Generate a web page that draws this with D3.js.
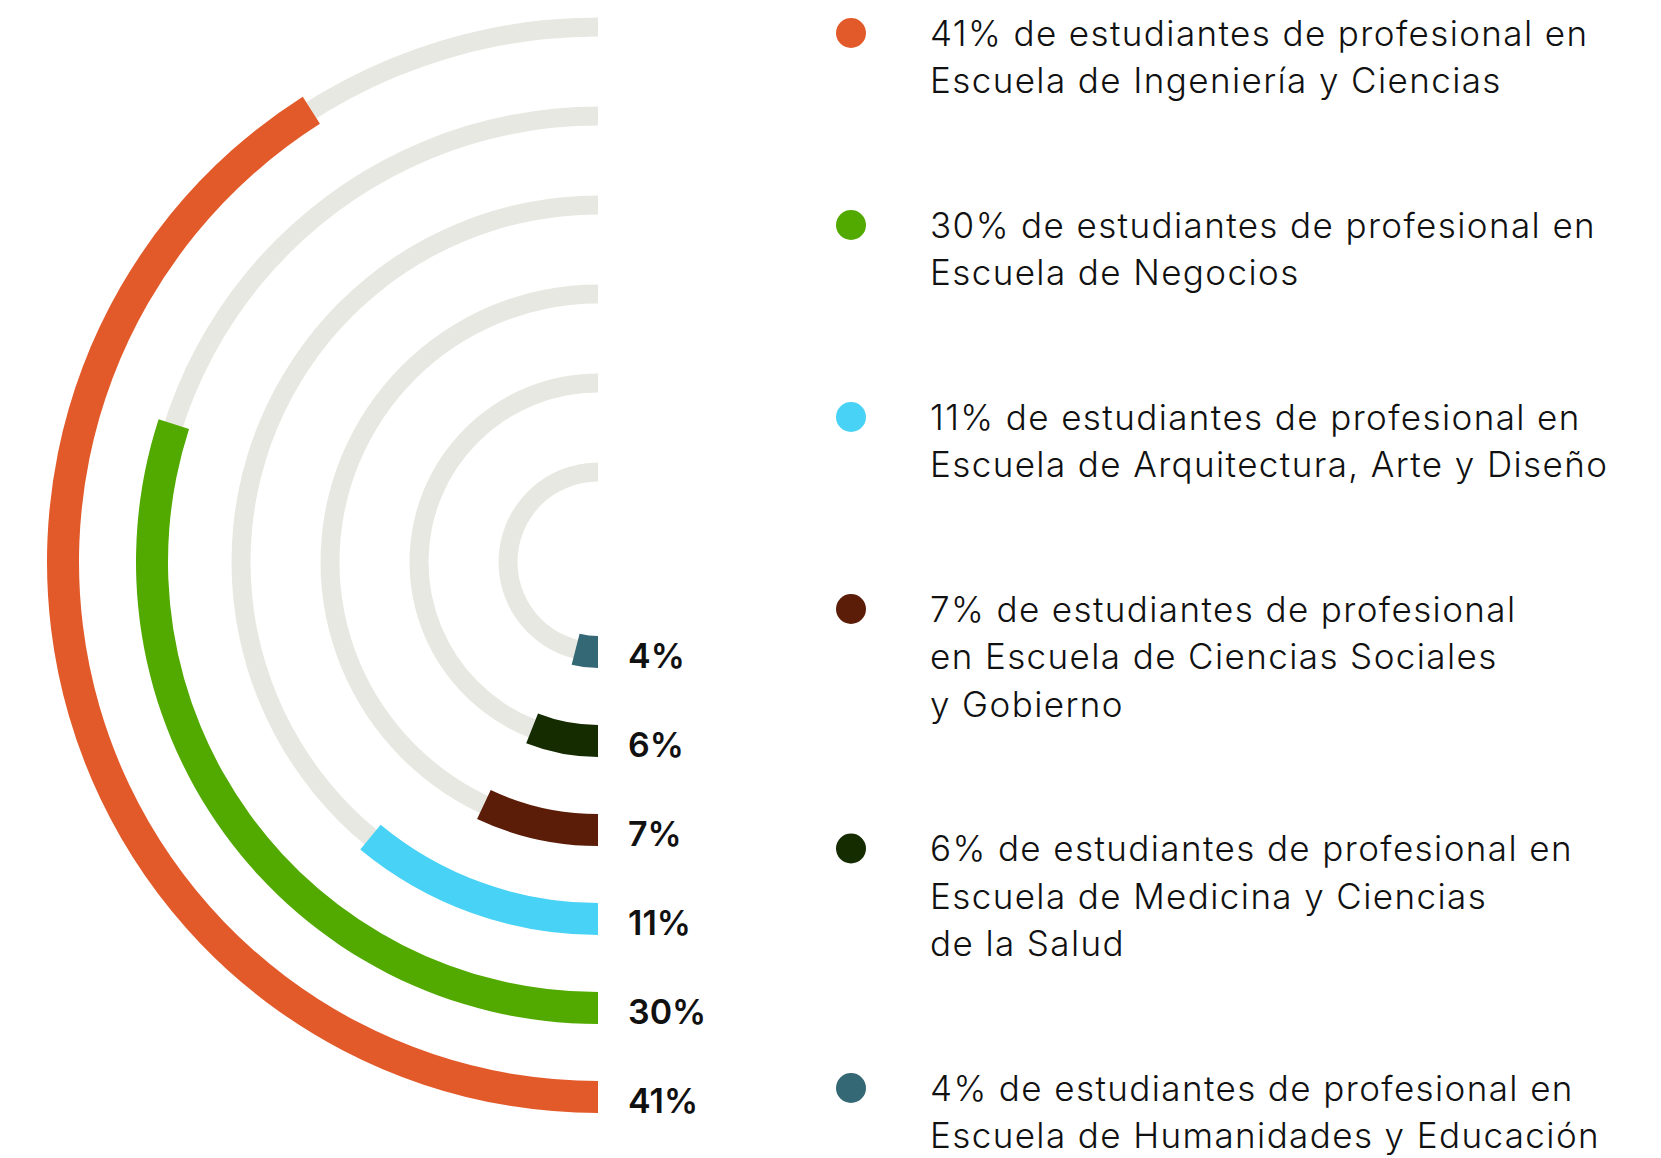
<!DOCTYPE html>
<html>
<head>
<meta charset="utf-8">
<script src="https://cdn.jsdelivr.net/npm/d3@7"></script>
<style>
  body { margin: 0; background: #fff; }
  text { font-family: Inter, Roboto, "Noto Sans", sans-serif; }
</style>
</head>
<body>
<div class="canva"></div>
<script>
// data
const schools = [
  "Ingeniería y Ciencias",
  "Negocios",
  "Arquitectura, Arte y Diseño",
  "Ciencias Sociales y Gobierno",
  "Medicina y Ciencias de la Salud",
  "Humanidades y Educación"
];
const values = [41, 30, 11, 7, 6, 4];
const colors = ["#e35a2a", "#52aa00", "#48d2f5", "#5c1d08", "#152b00", "#356875"];
const legendLines = [
  ["41% de estudiantes de profesional en", "Escuela de Ingeniería y Ciencias"],
  ["30% de estudiantes de profesional en", "Escuela de Negocios"],
  ["11% de estudiantes de profesional en", "Escuela de Arquitectura, Arte y Diseño"],
  ["7% de estudiantes de profesional", "en Escuela de Ciencias Sociales", "y Gobierno"],
  ["6% de estudiantes de profesional en", "Escuela de Medicina y Ciencias", "de la Salud"],
  ["4% de estudiantes de profesional en", "Escuela de Humanidades y Educación"]
];

const width = 1661, height = 1158;
const cx = 598, cy = 562;

const svg = d3.select(".canva").append("svg")
  .attr("width", width)
  .attr("height", height);

// one ring per school, outermost first
const radius = d3.scalePoint().domain(schools).range([535, 90]);
// share of a full turn
const angle = d3.scaleLinear().domain([0, 100]).range([0, 2 * Math.PI]);

const rows = schools.map((s, i) => ({ school: s, value: values[i], color: colors[i], lines: legendLines[i] }));

const g = svg.append("g").attr("transform", `translate(${cx},${cy})`);

// grey tracks: left half circle
g.selectAll("path.track").data(rows).join("path")
  .attr("class", "track")
  .attr("fill", "#e8e8e2")
  .attr("d", d => d3.arc()
    .innerRadius(radius(d.school) - 9.5)
    .outerRadius(radius(d.school) + 9.5)
    .startAngle(Math.PI)
    .endAngle(2 * Math.PI)());

// value arcs, starting at the bottom and running clockwise
g.selectAll("path.value").data(rows).join("path")
  .attr("class", "value")
  .attr("fill", d => d.color)
  .attr("d", d => d3.arc()
    .innerRadius(radius(d.school) - 16)
    .outerRadius(radius(d.school) + 16)
    .startAngle(Math.PI)
    .endAngle(Math.PI + angle(d.value))());

// percent labels at the end of each ring
g.selectAll("text.pct").data(rows).join("text")
  .attr("class", "pct")
  .text(d => d.value + "%")
  .attr("x", 30)
  .attr("y", d => radius(d.school) + 16)
  .attr("font-size", 34)
  .attr("font-weight", 600)
  .attr("fill", "#111");

// legend
const lineH = 47.5, gap = 97;
let y = 33;
rows.forEach(d => { d.ly = y; y += d.lines.length * lineH + gap; });

const leg = svg.append("g");
leg.selectAll("circle").data(rows).join("circle")
  .attr("cx", 851)
  .attr("cy", d => d.ly)
  .attr("r", 15)
  .attr("fill", d => d.color);

const items = leg.selectAll("text.leg").data(rows).join("text")
  .attr("class", "leg")
  .attr("x", 930)
  .attr("y", d => d.ly + 12.5)
  .attr("font-size", 35)
  .attr("font-weight", 300)
  .attr("letter-spacing", 1.4)
  .attr("fill", "#111");

items.selectAll("tspan").data(d => d.lines).join("tspan")
  .attr("x", 930)
  .attr("dy", (l, i) => i === 0 ? 0 : lineH)
  .text(l => l);
</script>
</body>
</html>
